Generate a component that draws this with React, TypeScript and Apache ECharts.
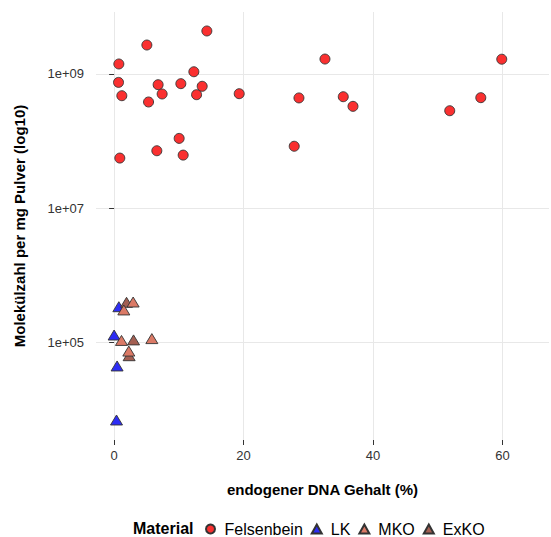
import React, { useEffect, useRef } from "react";
import * as echarts from "echarts";

// Felsenbein (circles)
const felsX = [0.73, 5.06, 14.33, 0.68, 1.19, 5.32, 6.8, 7.42, 10.31, 12.32, 13.61, 12.74, 19.33, 28.56, 32.58, 35.41, 36.91, 51.86, 56.66, 59.9, 0.88, 6.6, 10.05, 10.67, 27.83];
const felsY = [1.41e9, 2.7e9, 4.37e9, 7.5e8, 4.75e8, 3.83e8, 6.93e8, 5.04e8, 7.18e8, 1.08e9, 6.56e8, 4.92e8, 5.09e8, 4.4e8, 1.67e9, 4.59e8, 3.3e8, 2.84e8, 4.44e8, 1.66e9, 5.6e7, 7.2e7, 1.1e8, 6.2e7, 8.4e7];
// LK
const lkX = [0.73, 0.0, 0.46, 0.37];
const lkY = [3.43e5, 1.3e5, 4.5e4, 7.06e3];
// MKO
const mkoX = [2.94, 1.5, 1.14, 5.83, 2.27];
const mkoY = [4.03e5, 3.07e5, 1.08e5, 1.15e5, 7.5e4];
// ExKO
const exkoX = [1.92, 3.0, 2.32];
const exkoY = [3.99e5, 1.1e5, 6.4e4];

const xTicks = [0, 20, 40, 60];
const yTicks = [1e5, 1e7, 1e9];

const zip = (xs: number[], ys: number[]) => xs.map((x, i) => [x, ys[i]]);

const FONT = "Liberation Sans, Arial, Helvetica, sans-serif";

export default function App() {
  const ref = useRef<HTMLDivElement>(null);
  useEffect(() => {
    if (!ref.current) return;
    const chart = echarts.init(ref.current, undefined, { renderer: "svg" });
    const border = { borderColor: "#333333", borderWidth: 0.9, opacity: 1 };
    chart.setOption({
      animation: false,
      textStyle: { fontFamily: FONT },
      grid: { left: 96, right: 2, top: 12, bottom: 97, containLabel: false },
      xAxis: {
        type: "value",
        min: -2.8,
        max: 67.2,
        name: "endogener DNA Gehalt (%)",
        nameLocation: "middle",
        nameGap: 42,
        nameTextStyle: { fontFamily: FONT, fontSize: 15, fontWeight: "bold", color: "#000" },
        axisLine: { show: false },
        axisTick: { show: true, length: 5, customValues: xTicks, lineStyle: { color: "#333", width: 1 } },
        axisLabel: { customValues: xTicks, margin: 9, fontSize: 13, color: "#333", fontFamily: FONT },
        splitLine: { show: true, lineStyle: { color: "#E8E8E8", width: 1 } },
      },
      yAxis: {
        type: "log",
        logBase: 10,
        min: Math.pow(10, 3.551),
        max: Math.pow(10, 9.923),
        name: "Molekülzahl per mg Pulver (log10)",
        nameLocation: "middle",
        nameGap: 69,
        nameTextStyle: { fontFamily: FONT, fontSize: 15, fontWeight: "bold", color: "#000" },
        axisLine: { show: false },
        axisTick: { show: true, length: 5, customValues: yTicks, lineStyle: { color: "#333", width: 1 } },
        axisLabel: {
          customValues: yTicks,
          margin: 12,
          fontSize: 13,
          color: "#333",
          fontFamily: FONT,
          formatter: (v: number) => {
            const e = Math.round(Math.log10(v));
            return "1e+" + (e < 10 ? "0" + e : "" + e);
          },
        },
        splitLine: { show: true, lineStyle: { color: "#E8E8E8", width: 1 } },
        minorSplitLine: { show: false },
      },
      legend: {
        data: ["Felsenbein", "LK", "MKO", "ExKO"],
        left: 200,
        top: 516,
        itemWidth: 10,
        itemHeight: 9,
        itemGap: 8,
        textStyle: { fontFamily: FONT, fontSize: 16, color: "#000", padding: [0, 0, 0, 4] },
      },
      graphic: [
        {
          type: "text",
          left: 133,
          top: 520,
          style: { text: "Material", font: "bold 16px " + FONT, fill: "#000" },
        },
      ],
      series: [
        {
          name: "Felsenbein",
          type: "scatter",
          symbol: "circle",
          symbolSize: 10,
          data: zip(felsX, felsY),
          itemStyle: { color: "#FA3030", ...border },
        },
        {
          name: "LK",
          type: "scatter",
          symbol: "triangle",
          symbolSize: [12, 10],
          data: zip(lkX, lkY),
          itemStyle: { color: "#2D2DF5", ...border },
        },
        {
          name: "ExKO",
          type: "scatter",
          symbol: "triangle",
          symbolSize: [12, 10],
          data: zip(exkoX, exkoY),
          itemStyle: { color: "#A35F52", ...border },
        },
        {
          name: "MKO",
          type: "scatter",
          symbol: "triangle",
          symbolSize: [12, 10],
          data: zip(mkoX, mkoY),
          itemStyle: { color: "#DB7A66", ...border },
        },
      ],
    });
    return () => chart.dispose();
  }, []);
  return <div ref={ref} style={{ width: 551, height: 537, position: "absolute", left: 0, top: 0 }} />;
}
